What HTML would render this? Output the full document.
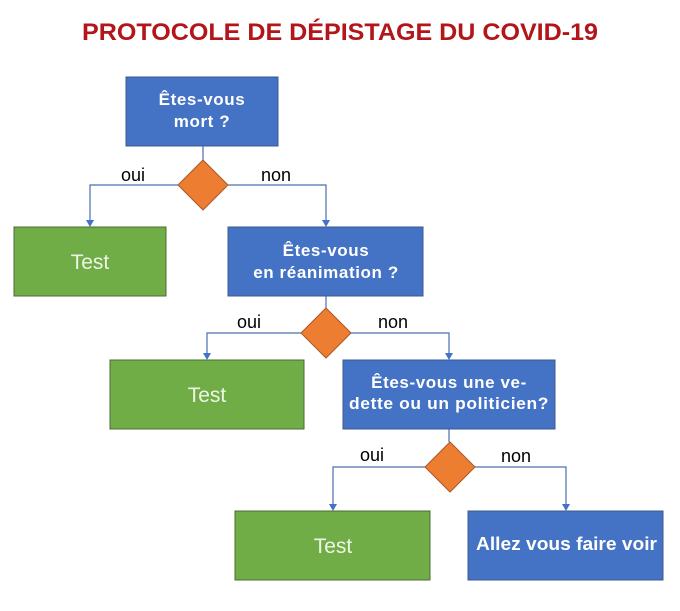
<!DOCTYPE html>
<html><head><style>
body{margin:0;background:#fff;width:680px;height:606px;overflow:hidden;font-family:"Liberation Sans",sans-serif}
</style></head><body>
<svg width="680" height="606" xmlns="http://www.w3.org/2000/svg" font-family="Liberation Sans, sans-serif">
<text x="82" y="40" textLength="516" lengthAdjust="spacingAndGlyphs" font-size="24" font-weight="bold" fill="#b2161b">PROTOCOLE DE DÉPISTAGE DU COVID-19</text>
<g stroke="#4a6fb0" stroke-width="1.2" fill="none">
<path d="M203 146V160"/><path d="M178 185H90V221"/><path d="M228 185H326V221"/>
<path d="M326 296V308"/><path d="M301 333H207V354"/><path d="M351 333H449V354"/>
<path d="M449 429V442"/><path d="M425 467H333V505"/><path d="M475 467H566V505"/>
</g>
<g fill="#4472c4">
<path d="M86 220H94L90 227Z"/><path d="M322 220H330L326 227Z"/>
<path d="M203 353H211L207 360Z"/><path d="M445 353H453L449 360Z"/>
<path d="M329 504H337L333 511Z"/><path d="M562 504H570L566 511Z"/>
</g>
<g stroke="#3c5a8c" stroke-width="1">
<rect x="126" y="77" width="152" height="69" fill="#4472c4"/>
<rect x="228" y="227" width="195" height="69" fill="#4472c4"/>
<rect x="343" y="360" width="212" height="69" fill="#4472c4"/>
<rect x="468" y="511" width="195" height="69" fill="#4472c4"/>
</g>
<g stroke="#4a6b30" stroke-width="1" fill="#70ad47">
<rect x="14" y="227" width="152" height="69"/>
<rect x="110" y="360" width="194" height="69"/>
<rect x="235" y="511" width="195" height="69"/>
</g>
<g fill="#ed7d31" stroke="#a9582a" stroke-width="1">
<path d="M203 160L228 185L203 210L178 185Z"/>
<path d="M326 308L351 333L326 358L301 333Z"/>
<path d="M450 442L475 467L450 492L425 467Z"/>
</g>
<g font-size="18" fill="#000">
<text x="133" y="181" text-anchor="middle">oui</text>
<text x="276" y="181" text-anchor="middle">non</text>
<text x="249" y="328" text-anchor="middle">oui</text>
<text x="393" y="328" text-anchor="middle">non</text>
<text x="372" y="461" text-anchor="middle">oui</text>
<text x="516" y="462" text-anchor="middle">non</text>
</g>
<g fill="#fff" font-weight="bold" font-size="17" text-anchor="middle" letter-spacing="0.6">
<text x="202" y="105">Êtes-vous</text><text x="202" y="127">mort ?</text>
<text x="326" y="256">Êtes-vous</text><text x="326" y="278">en réanimation ?</text>
<text x="449" y="388">Êtes-vous une ve-</text><text x="449" y="409" textLength="200" lengthAdjust="spacingAndGlyphs">dette ou un politicien?</text>
</g>
<text x="476" y="550" textLength="181" lengthAdjust="spacingAndGlyphs" fill="#fff" font-weight="bold" font-size="18">Allez vous faire voir</text>
<g fill="#eef5e6" font-size="21" text-anchor="middle">
<text x="90" y="269">Test</text><text x="207" y="402">Test</text><text x="333" y="553">Test</text>
</g>
</svg>
</body></html>
